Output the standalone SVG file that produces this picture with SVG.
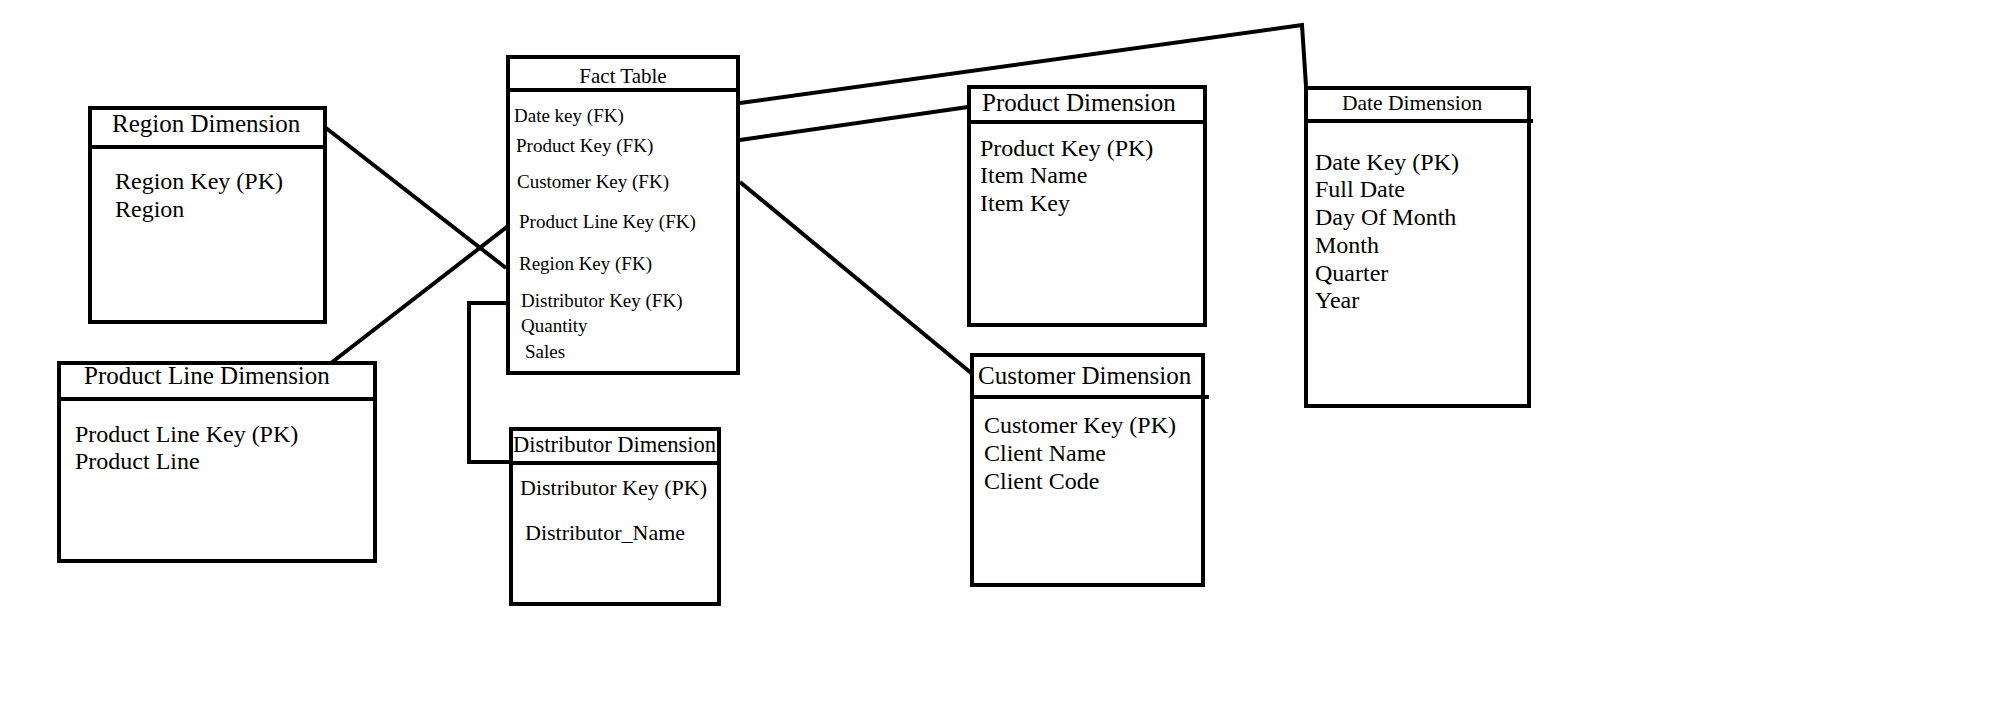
<svg xmlns="http://www.w3.org/2000/svg" width="2014" height="712" viewBox="0 0 2014 712">
<style>
.box{fill:#fff;stroke:#000;stroke-width:4}
.div{stroke:#000;stroke-width:4;fill:none}
.con{stroke:#000;stroke-width:4;fill:none}
text{font-family:"Liberation Serif","Times New Roman",serif;fill:#000}
.ft{font-size:21px}
.ff{font-size:19px}
.bt{font-size:25px}
.bf{font-size:24px}
.dt{font-size:22.5px}
.df{font-size:22px}
.datet{font-size:21.5px}
</style>
<rect width="2014" height="712" fill="#fff"/>
<g id="connectors">
<polyline class="con" points="740,103 1302,25 1306,86"/>
<line class="con" x1="740" y1="140" x2="968" y2="107"/>
<line class="con" x1="740" y1="182" x2="976" y2="377"/>
<line class="con" x1="326" y1="128" x2="506" y2="268"/>
<line class="con" x1="331" y1="363" x2="512" y2="223"/>
<polyline class="con" points="506,303 469,303 469,462 509,462"/>
</g>
<g id="fact-table">
<rect class="box" x="508" y="57" width="230" height="316"/>
<line class="div" x1="508" y1="90" x2="738" y2="90"/>
<text class="ft" x="623" y="83" text-anchor="middle">Fact Table</text>
<text class="ff" x="514" y="122">Date key (FK)</text>
<text class="ff" x="516" y="152">Product Key (FK)</text>
<text class="ff" x="517" y="188">Customer Key (FK)</text>
<text class="ff" x="519" y="228">Product Line Key (FK)</text>
<text class="ff" x="519" y="270">Region Key (FK)</text>
<text class="ff" x="521" y="307">Distributor Key (FK)</text>
<text class="ff" x="521" y="332">Quantity</text>
<text class="ff" x="525" y="358">Sales</text>
</g>
<g id="region-dimension">
<rect class="box" x="90" y="108" width="235" height="214"/>
<line class="div" x1="90" y1="147" x2="325" y2="147"/>
<text class="bt" x="112" y="132">Region Dimension</text>
<text class="bf" x="115" y="189">Region Key (PK)</text>
<text class="bf" x="115" y="217">Region</text>
</g>
<g id="product-line-dimension">
<rect class="box" x="59" y="363" width="316" height="198"/>
<line class="div" x1="59" y1="399" x2="375" y2="399"/>
<text class="bt" x="84" y="384">Product Line Dimension</text>
<text class="bf" x="75" y="442">Product Line Key (PK)</text>
<text class="bf" x="75" y="469">Product Line</text>
</g>
<g id="distributor-dimension">
<rect class="box" x="511" y="429" width="208" height="175"/>
<line class="div" x1="511" y1="463" x2="719" y2="463"/>
<text class="dt" x="513" y="452">Distributor Dimension</text>
<text class="df" x="520" y="495">Distributor Key (PK)</text>
<text class="df" x="525" y="540">Distributor_Name</text>
</g>
<g id="product-dimension">
<rect class="box" x="969" y="87" width="236" height="238"/>
<line class="div" x1="969" y1="122" x2="1205" y2="122"/>
<text class="bt" x="982" y="111">Product Dimension</text>
<text class="bf" x="980" y="156">Product Key (PK)</text>
<text class="bf" x="980" y="183">Item Name</text>
<text class="bf" x="980" y="211">Item Key</text>
</g>
<g id="customer-dimension">
<rect class="box" x="972" y="355" width="231" height="230"/>
<line class="div" x1="972" y1="397" x2="1209" y2="397"/>
<text class="bt" x="978" y="384">Customer Dimension</text>
<text class="bf" x="984" y="433">Customer Key (PK)</text>
<text class="bf" x="984" y="461">Client Name</text>
<text class="bf" x="984" y="489">Client Code</text>
</g>
<g id="date-dimension">
<rect class="box" x="1306" y="88" width="223" height="318"/>
<line class="div" x1="1306" y1="121" x2="1533" y2="121"/>
<text class="datet" x="1342" y="110">Date Dimension</text>
<text class="bf" x="1315" y="170">Date Key (PK)</text>
<text class="bf" x="1315" y="197">Full Date</text>
<text class="bf" x="1315" y="225">Day Of Month</text>
<text class="bf" x="1315" y="253">Month</text>
<text class="bf" x="1315" y="281">Quarter</text>
<text class="bf" x="1315" y="308">Year</text>
</g>
</svg>
